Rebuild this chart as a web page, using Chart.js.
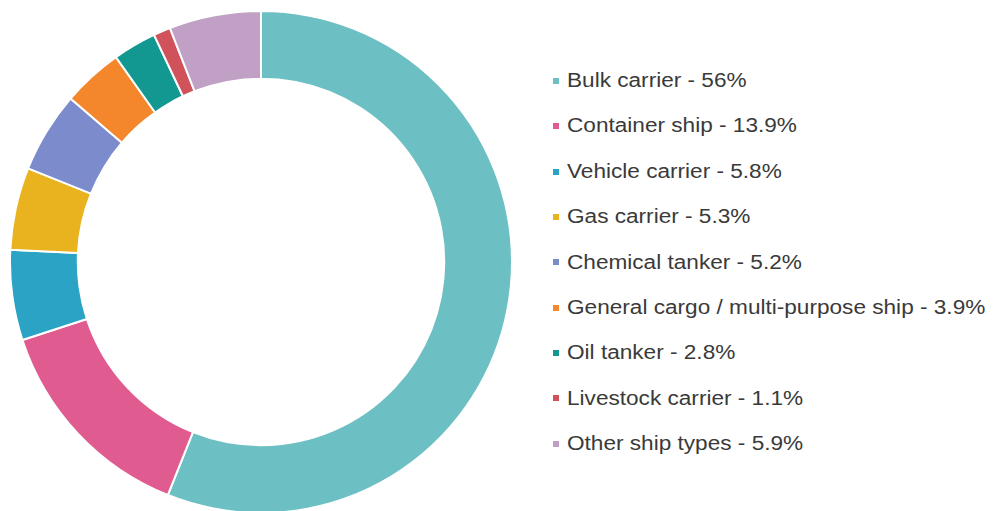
<!DOCTYPE html>
<html>
<head>
<meta charset="utf-8">
<script src="https://cdn.jsdelivr.net/npm/chart.js@4.4.0/dist/chart.umd.min.js"></script>
<style>
    html, body {
        margin: 0;
        padding: 0;
        background: #ffffff;
        overflow: hidden;
    }
    .page {
        position: relative;
        width: 996px;
        height: 511px;
    }
    .chart-box {
        position: absolute;
        left: 9px;
        top: 10px;
        width: 504px;
        height: 504px;
    }
    #shipLegend {
        position: absolute;
        left: 553px;
        top: 58px;
        margin: 0;
        padding: 0;
        list-style: none;
        font-family: "Liberation Sans", Arial, sans-serif;
        font-size: 20px;
        color: #3a3a3a;
    }
    #shipLegend li {
        height: 45.4px;
        line-height: 45.4px;
        white-space: nowrap;
    }
    #shipLegend .swatch {
        display: inline-block;
        width: 6px;
        height: 6px;
        margin-right: 8px;
        vertical-align: middle;
        position: relative;
        top: -1px;
    }
    #shipLegend .text {
        display: inline-block;
        transform: scaleX(1.13);
        transform-origin: left center;
    }
</style>
</head>
<body>
<div class="page">
    <div class="chart-box"><canvas id="shipChart"></canvas></div>
    <ul id="shipLegend"></ul>
</div>

<script>
// Share of fleet by ship type (%)
const shipTypes = [
    'Bulk carrier',
    'Container ship',
    'Vehicle carrier',
    'Gas carrier',
    'Chemical tanker',
    'General cargo / multi-purpose ship',
    'Oil tanker',
    'Livestock carrier',
    'Other ship types'
];
const shares = [56, 13.9, 5.8, 5.3, 5.2, 3.9, 2.8, 1.1, 5.9];
const sliceColors = [
    '#6cbfc3',
    '#e05b8f',
    '#2aa3c5',
    '#e9b320',
    '#7b8bcb',
    '#f4862c',
    '#139891',
    '#d0525b',
    '#c0a0c5'
];

document.addEventListener('DOMContentLoaded', function() {
    const shipCtx = document.getElementById('shipChart');
    const shipChart = new Chart(shipCtx, {
        type: 'doughnut',
        data: {
            labels: shipTypes,
            datasets: [{
                data: shares,
                backgroundColor: sliceColors,
                borderColor: '#ffffff',
                borderWidth: 2
            }]
        },
        options: {
            responsive: true,
            maintainAspectRatio: false,
            animation: false,
            cutout: '73%',
            layout: { padding: 0 },
            plugins: {
                legend: { display: false },
                tooltip: { enabled: false }
            }
        }
    });

    buildLegend(shipChart);
});

/**
 * Legend list on the right, built from the chart's own labels and colours
 */
function buildLegend(chart) {
    const list = document.getElementById('shipLegend');
    const ds = chart.data.datasets[0];
    chart.data.labels.forEach((label, i) => {
        const li = document.createElement('li');
        const sw = document.createElement('span');
        sw.className = 'swatch';
        sw.style.background = ds.backgroundColor[i];
        const txt = document.createElement('span');
        txt.className = 'text';
        txt.textContent = label + ' - ' + ds.data[i] + '%';
        li.appendChild(sw);
        li.appendChild(txt);
        list.appendChild(li);
    });
}
</script>
</body>
</html>
